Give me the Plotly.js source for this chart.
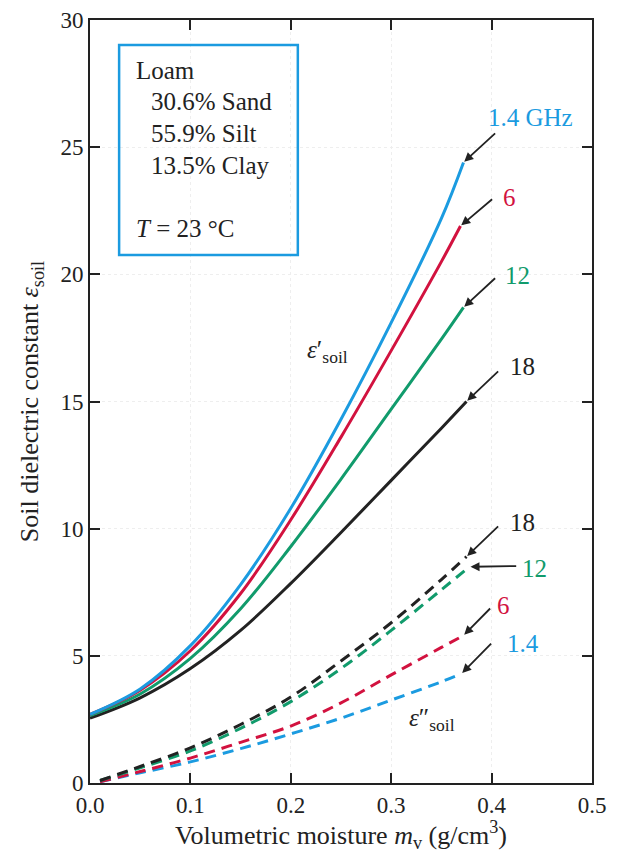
<!DOCTYPE html>
<html>
<head>
<meta charset="utf-8">
<script src="https://cdn.plot.ly/plotly-3.0.1.min.js"></script>
<style>html,body{margin:0;padding:0;background:#fff;}#chart{width:622px;height:853px;}</style>
</head>
<body>
<div id="chart"></div>
<script>
// Volumetric moisture (g/cm3)
const mv = [0, 0.05, 0.10, 0.15, 0.20, 0.25, 0.30, 0.35];
const mvDash = [0.01, 0.05, 0.10, 0.15, 0.20, 0.25, 0.30, 0.35];

// Real part eps' (solid)
const mvReal14 = [...mv, 0.372];
const real14 = [2.7, 3.7, 5.4, 7.8, 10.8, 14.3, 18.1, 22.2, 24.4];
const mvReal6 = [...mv, 0.369];
const real6 = [2.7, 3.65, 5.2, 7.45, 10.35, 13.6, 17.0, 20.5, 21.9];
const mvReal12 = [...mv, 0.372];
const real12 = [2.65, 3.5, 4.9, 6.85, 9.3, 11.95, 14.7, 17.45, 18.7];
const mvReal18 = [...mv, 0.375];
const real18 = [2.55, 3.35, 4.5, 6.0, 7.85, 9.85, 11.9, 13.95, 15.0];

// Imaginary part eps'' (dashed)
const mvImag18 = [...mvDash, 0.375];
const imag18 = [0.1, 0.65, 1.38, 2.3, 3.38, 4.8, 6.3, 8.0, 8.9];
const mvImag12 = [...mvDash, 0.378];
const imag12 = [0.1, 0.6, 1.26, 2.15, 3.2, 4.5, 6.0, 7.6, 8.5];
const mvImag6 = [...mvDash, 0.372];
const imag6 = [0.05, 0.45, 0.98, 1.6, 2.24, 3.15, 4.25, 5.33, 5.8];
const mvImag14 = [...mvDash, 0.37];
const imag14 = [0.05, 0.4, 0.83, 1.35, 1.93, 2.55, 3.26, 3.98, 4.3];

const xTicks = [0, 0.1, 0.2, 0.3, 0.4, 0.5];
const xTickText = ['0.0', '0.1', '0.2', '0.3', '0.4', '0.5'];
const yTicks = [0, 5, 10, 15, 20, 25, 30];

const freqLabels = ['1.4 GHz', '6', '12', '18'];
const dashLabels = ['18', '12', '6', '1.4'];
const soilLines = ['Loam', '30.6% Sand', '55.9% Silt', '13.5% Clay', '<i>T</i> = 23 °C'];

const cBlue = '#1b9be0', cRed = '#d2123f', cGreen = '#119b6c', cBlack = '#222222';
const serif = 'Liberation Serif, Times New Roman, serif';

function solid(x, y, c) { return {x: x, y: y, mode: 'lines', line: {color: c, width: 3, shape: 'spline'}, hoverinfo: 'skip'}; }
function dashed(x, y, c) { return {x: x, y: y, mode: 'lines', line: {color: c, width: 3, shape: 'spline', dash: '11px,7px'}, hoverinfo: 'skip'}; }

const data = [
  solid(mvReal18, real18, cBlack),
  solid(mvReal12, real12, cGreen),
  solid(mvReal6, real6, cRed),
  solid(mvReal14, real14, cBlue),
  dashed(mvImag14, imag14, cBlue),
  dashed(mvImag6, imag6, cRed),
  dashed(mvImag12, imag12, cGreen),
  dashed(mvImag18, imag18, cBlack)
];

function last(a) { return a[a.length - 1]; }
function arrow(x, y, tx, ty) {
  return {x: x, y: y, ax: tx, ay: ty, axref: 'x', ayref: 'y', xref: 'x', yref: 'y', text: '',
    showarrow: true, arrowhead: 2, arrowsize: 1, arrowwidth: 1.8, arrowcolor: '#222', standoff: 1};
}
function label(x, y, t, c) {
  return {x: x, y: y, xref: 'x', yref: 'y', text: t, showarrow: false, xanchor: 'left', yanchor: 'middle',
    font: {family: serif, size: 25, color: c}};
}

const annotations = [
  arrow(last(mvReal14), last(real14), 0.405, 25.6), label(0.394, 26.15, freqLabels[0], cBlue),
  arrow(last(mvReal6), last(real6), 0.402, 23.0), label(0.409, 23.04, freqLabels[1], cRed),
  arrow(last(mvReal12), last(real12), 0.405, 19.9), label(0.411, 19.94, freqLabels[2], cGreen),
  arrow(last(mvReal18), last(real18), 0.408, 16.24), label(0.416, 16.36, freqLabels[3], cBlack),
  arrow(last(mvImag18), last(imag18), 0.408, 10.15), label(0.416, 10.26, dashLabels[0], cBlack),
  arrow(last(mvImag12), last(imag12), 0.426, 8.53), label(0.428, 8.42, dashLabels[1], cGreen),
  arrow(last(mvImag6), last(imag6), 0.400, 6.92), label(0.403, 6.96, dashLabels[2], cRed),
  arrow(last(mvImag14), last(imag14), 0.401, 5.54), label(0.413, 5.5, dashLabels[3], cBlue),
  {x: 0.237, y: 16.95, xref: 'x', yref: 'y', text: '<i>ε</i>′<sub>soil</sub>', showarrow: false,
    font: {family: serif, size: 25, color: '#222'}},
  {x: 0.341, y: 2.48, xref: 'x', yref: 'y', text: '<i>ε</i>″<sub>soil</sub>', showarrow: false,
    font: {family: serif, size: 25, color: '#222'}},
  label(0.044, 28.0, soilLines[0], '#222'),
  label(0.059, 26.78, soilLines[1], '#222'),
  label(0.059, 25.52, soilLines[2], '#222'),
  label(0.059, 24.26, soilLines[3], '#222'),
  label(0.044, 21.82, soilLines[4], '#222')
];

const layout = {
  width: 622, height: 853,
  margin: {l: 90, r: 30, t: 20, b: 70},
  paper_bgcolor: '#fff', plot_bgcolor: '#fff',
  showlegend: false,
  font: {family: serif, color: '#222', size: 20},
  xaxis: {
    range: [0, 0.5], tickvals: xTicks, ticktext: xTickText,
    ticks: 'inside', ticklen: 10, tickwidth: 2, tickcolor: '#222',
    showline: true, linewidth: 2, linecolor: '#222', mirror: 'ticks',
    showgrid: true, gridcolor: '#eeeeee', griddash: 'dot', gridwidth: 1, zeroline: false,
    tickfont: {family: serif, size: 23, color: '#222'},
    title: {text: 'Volumetric moisture <i>m</i><sub>v</sub> (g/cm<sup>3</sup>)', font: {family: serif, size: 26, color: '#222'}, standoff: 4}
  },
  yaxis: {
    range: [0, 30], tickvals: yTicks,
    ticks: 'inside', ticklen: 10, tickwidth: 2, tickcolor: '#222',
    showline: true, linewidth: 2, linecolor: '#222', mirror: 'ticks',
    showgrid: true, gridcolor: '#eeeeee', griddash: 'dot', gridwidth: 1, zeroline: false,
    tickfont: {family: serif, size: 23, color: '#222'},
    title: {text: 'Soil dielectric constant <i>ε</i><sub>soil</sub>', font: {family: serif, size: 26, color: '#222'}, standoff: 14}
  },
  shapes: [
    {type: 'rect', xref: 'x', yref: 'y', x0: 0.029, x1: 0.207, y0: 20.76, y1: 29.02,
     line: {color: '#1b9be0', width: 2.5}, fillcolor: 'rgba(0,0,0,0)'}
  ],
  annotations: annotations
};

Plotly.newPlot('chart', data, layout, {displayModeBar: false, staticPlot: true});
</script>
</body>
</html>
